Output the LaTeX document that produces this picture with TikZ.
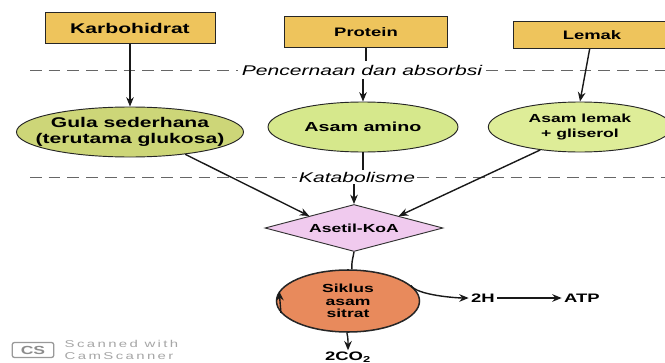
\documentclass[tikz,border=0pt]{standalone}
\usepackage{fontspec}
\setmainfont{Liberation Sans}[FakeStretch=1.5]
\newfontfamily\scanfont{Liberation Sans}[FakeStretch=1.5,LetterSpace=24]
\usepackage[dvipsnames,svgnames]{xcolor}
\usepackage{tikz}
\usetikzlibrary{arrows.meta,positioning,calc,shapes.geometric}

\definecolor{emas}{RGB}{238,196,92}
\definecolor{hijaugula}{RGB}{205,214,120}
\definecolor{hijauamino}{RGB}{214,232,140}
\definecolor{hijaulemak}{RGB}{222,237,152}
\definecolor{merahmuda}{RGB}{240,202,238}
\definecolor{jingga}{RGB}{232,138,92}

\begin{document}
\begin{tikzpicture}[x=0.03cm,y=-0.03cm,
	bahan/.style={draw=black!85, line width=0.8pt, fill=emas, minimum height=0.93cm, inner sep=0pt},
	hasil/.style={ellipse, draw=black!85, line width=0.8pt, minimum height=1.5cm, inner xsep=-12pt, inner ysep=0pt, align=center},
	pnh/.style={-{Stealth[length=8pt,width=6.5pt]}, line width=1.2pt, black!90},
	garis/.style={line width=1.2pt, black!90},
	batas/.style={dash pattern=on 10pt off 6pt, line width=0.7pt, black!60},
	ket/.style={font=\itshape\fontsize{12}{14}\selectfont, inner sep=3pt}]

	\useasboundingbox (0,0) rectangle (665,363);

	% garis batas
	\node[ket] (cerna) at (362,70) {Pencernaan dan absorbsi};
	\node[ket, inner sep=1.5pt] (katab) at (357,177) {Katabolisme};
	\coordinate (cernaA) at (30,70);
	\coordinate (cernaB) at (665,70);
	\coordinate (katabA) at (30,177);
	\coordinate (katabB) at (665,177);
	\draw[batas] (cernaA) -- (cerna.west);
	\draw[batas] (cerna.east) -- (cernaB);
	\draw[batas] (katabA) -- (katab.west);
	\draw[batas] (katab.east) -- (katabB);

	% bahan makanan
	\node[bahan, minimum width=5.1cm, font=\bfseries\fontsize{12}{14}\selectfont] (karbo) at (130,28) {Karbohidrat};
	\node[bahan, minimum width=4.9cm, font=\bfseries\fontsize{10.5}{12}\selectfont] (protein) at (366,32) {Protein};
	\node[bahan, minimum width=4.7cm, minimum height=0.81cm, font=\bfseries\fontsize{10.5}{12}\selectfont] (lemak) at (592,35) {Lemak};

	\node[hasil, fill=hijaugula, minimum width=6.66cm, font=\bfseries\fontsize{12}{14}\selectfont] (gula) at (130,132) {Gula sederhana\\(terutama glukosa)};
	\node[hasil, fill=hijauamino, minimum width=5.7cm, font=\bfseries\fontsize{11.2}{13}\selectfont] (amino) at (363,127) {Asam amino};
	\node[hasil, fill=hijaulemak, minimum width=5.5cm, font=\bfseries\fontsize{10}{12}\selectfont] (aslemak) at (580,127) {Asam lemak\\+ gliserol};

	\node[diamond, aspect=3.8, draw=black!80, line width=0.8pt, fill=merahmuda, minimum width=5.34cm, minimum height=1.41cm, inner sep=0pt, font=\bfseries\fontsize{10}{12}\selectfont] (asetil) at (354,228) {Asetil-KoA};
	\node[ellipse, draw=black!85, line width=1.3pt, fill=jingga, minimum width=4.29cm, minimum height=1.86cm, inner sep=0pt, align=center, font=\bfseries\fontsize{10}{10.7}\selectfont] (siklus) at (348,301) {Siklus\\asam\\sitrat};

	\node[font=\bfseries\fontsize{10.5}{12}\selectfont, inner sep=2pt] (duaH) at (483,298) {2H};
	\node[font=\bfseries\fontsize{10.5}{12}\selectfont, inner sep=2pt] (atp) at (582,298) {ATP};
	\node[font=\bfseries\fontsize{10.5}{12}\selectfont, inner sep=1pt] (co2) at (348,357) {2CO\textsubscript{2}};

	% panah
	\draw[pnh] (karbo) -- (gula);
	\draw[garis] (protein) -- (protein |- cerna.north);
	\draw[pnh] (cerna.south -| amino.north) -- (amino);
	\draw[pnh] ([xshift=-2pt]lemak.south) -- (aslemak.north);
	\draw[pnh] (gula.-22) -- (asetil.north west);
	\draw[garis] (amino) -- (amino |- katab.north);
	\draw[pnh] (katab.south -| asetil.north) -- (asetil);
	\draw[pnh] (aslemak.-150) -- (asetil.north east);
	\draw[garis] (asetil.south) to[out=-100,in=95] (siklus.83);
	\draw[pnh] (siklus.190) -- (siklus.172);
	\draw[pnh] (siklus.14) to[out=-60,in=180,looseness=0.5] (duaH.west);
	\draw[pnh] (duaH.east) -- (atp.west);
	\draw[pnh] (siklus.-92) to[out=-75,in=90,looseness=0.8] (co2.north);

	% tanda scan
	\node[draw=black!40, rounded corners=2pt, line width=1.1pt, minimum width=1.25cm, minimum height=0.45cm, inner sep=0pt, text=black!45, font=\bfseries\fontsize{10}{11}\selectfont] (cs) at (33,350) {CS};
	\node[right=0.3cm of cs, align=left, inner sep=0pt, text=black!35, font=\scanfont\fontsize{8.5}{9.5}\selectfont] (scan) {Scanned with\\CamScanner};
\end{tikzpicture}
\end{document}
